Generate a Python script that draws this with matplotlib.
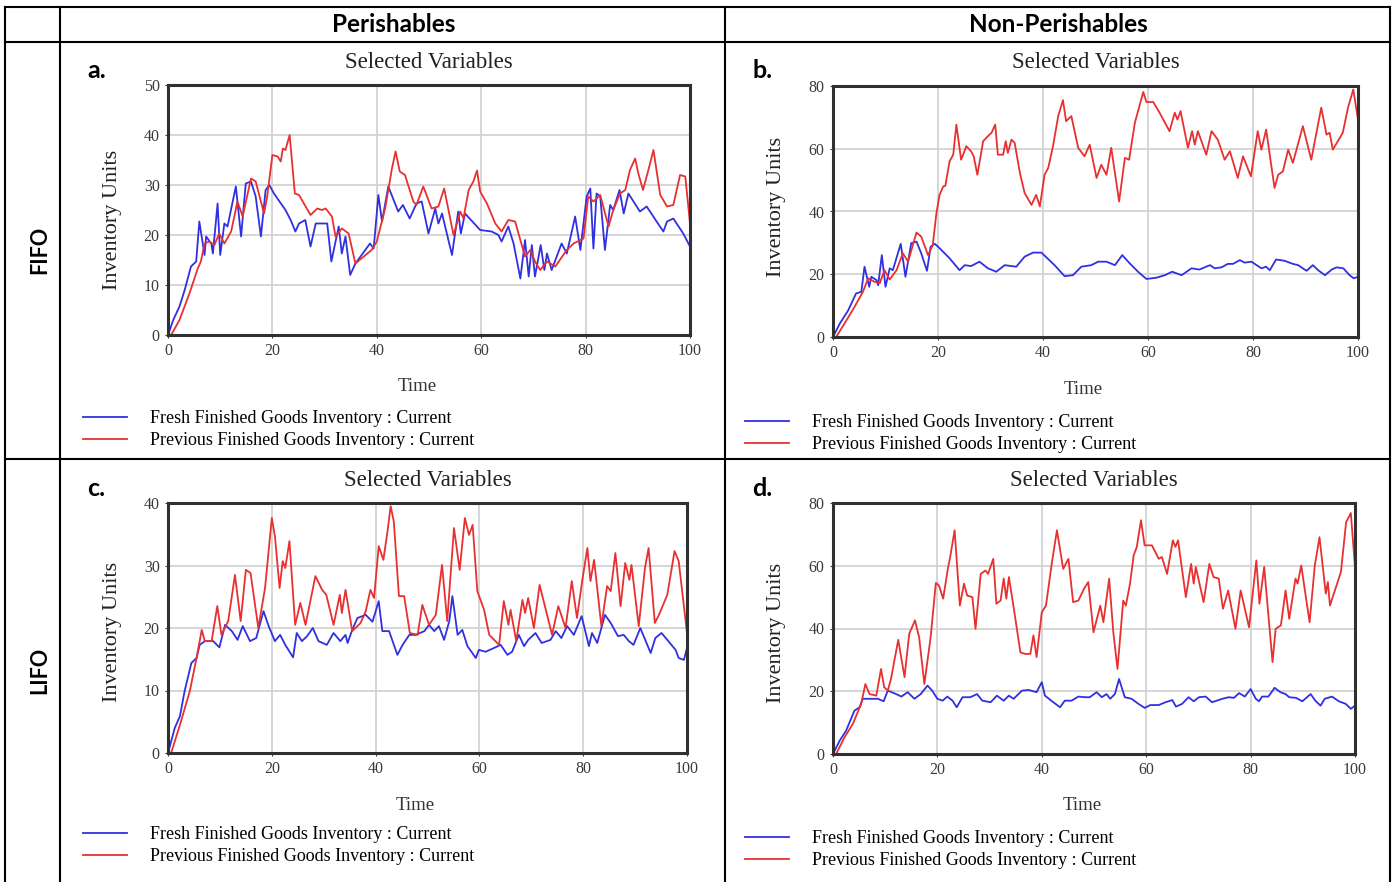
import matplotlib
matplotlib.use("Agg")
import matplotlib.pyplot as plt
from matplotlib.lines import Line2D

W, H = 1393, 882

# ---- data (time, value) ----
a_blue_t = [0, 1, 2.2, 3.2, 4.4, 5.4, 6, 7, 7.3, 8.3, 8.6, 9.5, 10, 10.8, 11.4, 13, 14, 14.9, 15.9, 16.8, 17.8, 18.7, 19.4, 20.3, 22.5, 23.5, 24.4, 25.1, 26.3, 27.3, 28.3, 30.5, 31.3, 32.7, 33.3, 34, 34.9, 35.9, 38.7, 39.4, 40.3, 41, 42.2, 44.1, 45, 46.3, 47.6, 48.6, 49.9, 51.2, 51.8, 52.5, 54.4, 55.6, 56.1, 56.9, 59.8, 62, 63.3, 63.9, 65.2, 66.2, 67.5, 68.4, 69.1, 69.7, 70.3, 71.4, 72.1, 72.6, 73.5, 75.4, 76.4, 78, 79, 80.2, 80.9, 81.5, 82.1, 82.8, 83.7, 84.7, 85.3, 86.5, 87.3, 88.2, 90.4, 91.7, 93.6, 94.9, 95.6, 96.8, 98.7, 100]
a_blue_v = [0, 3, 5.7, 9, 13.7, 14.7, 22.7, 16, 19.7, 18.3, 16.3, 26.3, 16, 22.3, 21.7, 29.7, 19.7, 30.3, 30.7, 27.7, 19.7, 29, 30, 28.3, 25, 23, 20.7, 22.3, 23, 17.7, 22.3, 22.3, 14.7, 21.7, 16.3, 19.7, 12, 14.3, 18.3, 17.3, 28, 22.7, 29.7, 24.7, 26, 23.3, 26.3, 26.7, 20.3, 25.3, 22.3, 24.3, 16, 24.7, 20.3, 24.3, 21, 20.7, 20, 18.7, 21.7, 18.3, 11.3, 19, 11.7, 18, 11.7, 18, 13, 16.3, 13, 18.3, 16.3, 23.7, 17, 27.7, 29.3, 17.3, 28.3, 27.7, 17, 26, 25, 29, 24.3, 28.3, 24.7, 25.7, 22.7, 20.7, 22.7, 23.3, 20.3, 17.7]
a_red_t = [0, 0.6, 2.2, 4.1, 5.7, 6.3, 7, 7.9, 8.9, 9.8, 10.8, 12.1, 13.3, 14.3, 15.9, 16.8, 18.4, 19, 20, 21, 21.6, 22, 22.5, 23.3, 24.3, 25.1, 27.3, 28.6, 29.5, 30.2, 31.4, 32.1, 33.3, 34.6, 35.9, 39, 40, 41.6, 42.9, 43.6, 44.4, 45.4, 47, 47.6, 48.9, 50.5, 51.8, 52.9, 54.7, 56, 56.6, 57.6, 58.5, 59.2, 59.8, 61.1, 62.7, 63.9, 65.2, 66.5, 67.5, 68.4, 69.4, 70.3, 71.3, 72.6, 74.2, 76.4, 77.7, 79.6, 80.5, 81.5, 82.8, 84.4, 85.3, 86.6, 87.6, 88.5, 89.5, 90.1, 91, 92.1, 93, 94.3, 95.6, 96.8, 98.1, 99.1, 100]
a_red_v = [0, 0, 3, 8.3, 13.3, 14.7, 18.3, 18.7, 18, 20.3, 18.3, 20.7, 26.7, 23.7, 31.3, 30.7, 24.3, 27.7, 36, 35.7, 34.7, 37.3, 37, 40, 28.3, 28, 24, 25.3, 25, 25.3, 23.7, 19.7, 21.3, 20.3, 14.3, 17, 18.7, 25.3, 33.3, 36.7, 32.7, 32, 26.7, 26, 29.7, 25.3, 25.7, 29.3, 20, 24.7, 23.3, 29, 30.7, 32.9, 28.7, 26.3, 22.3, 20.7, 23, 22.7, 19, 15.7, 17, 14.7, 13, 14.7, 13.7, 17, 18.3, 19.3, 27.7, 26.7, 28, 21.7, 25, 28.3, 29, 33, 35.3, 32.3, 29, 33.3, 37, 28, 25.7, 26, 32, 31.7, 22.3]

b_blue_t = [0, 1.3, 2.9, 4.4, 5.4, 6, 6.9, 7.3, 8.3, 8.6, 9.3, 10, 10.8, 11.4, 12.9, 13.8, 14.9, 15.9, 16.8, 17.9, 18.6, 19.4, 20.3, 22.2, 24.1, 25.1, 26.3, 27.9, 29.5, 31.1, 32.7, 34.9, 36.5, 38.1, 39.7, 42.2, 44.1, 45.7, 47.3, 49.2, 50.5, 52.1, 53.7, 55.1, 56.5, 58.1, 59.7, 61.6, 63.2, 64.6, 66.4, 68.3, 69.8, 71.8, 72.7, 74, 75.2, 76.2, 77.5, 78.4, 79.7, 81.6, 82.5, 83.2, 84.4, 86, 87.6, 88.6, 90.2, 91.4, 92.4, 93.7, 95, 95.9, 97.2, 98.4, 99.2, 100]
b_blue_v = [0, 4.3, 8.5, 13.9, 14.4, 22.4, 16, 19.2, 18.1, 16.5, 26.1, 16, 21.9, 21.3, 29.7, 19.2, 29.9, 30.4, 26.7, 21.1, 28.8, 29.7, 28.3, 25.1, 21.3, 22.9, 22.6, 24, 21.9, 20.8, 22.9, 22.4, 25.6, 26.9, 26.9, 22.9, 19.4, 19.7, 22.4, 22.9, 24, 24, 22.9, 26.1, 23.5, 20.8, 18.5, 18.9, 19.7, 20.8, 19.7, 21.9, 21.5, 22.9, 21.9, 22.2, 23.3, 23.3, 24.5, 23.7, 24, 21.9, 22.4, 21.3, 24.7, 24.3, 23.3, 22.9, 21.1, 22.9, 21.3, 19.7, 21.5, 22.2, 21.9, 19.7, 18.7, 19.2]
b_red_t = [0, 0.6, 2.2, 4.1, 5.7, 6.7, 7.9, 8.9, 9.8, 10.8, 12.1, 13.3, 14.3, 15.9, 16.8, 18.1, 19, 19.7, 20.3, 21, 21.4, 22.2, 22.9, 23.5, 24.4, 25.4, 26.3, 26.8, 27.5, 28.6, 29.5, 30.2, 30.9, 31.4, 32.4, 32.9, 33.3, 34, 34.6, 35.6, 36.5, 37.8, 38.7, 39.4, 40.3, 41, 41.9, 42.9, 43.8, 44.4, 45.4, 46.7, 47.9, 48.9, 50.2, 51.1, 52.1, 53, 53.7, 54.5, 55.6, 56.4, 57.5, 59.1, 59.7, 61, 62.2, 64.1, 65.1, 65.6, 66.2, 67.6, 68.4, 68.9, 69.5, 71.1, 72.1, 73.3, 74.6, 75.6, 77.1, 78.1, 79.6, 80.9, 81.6, 82.5, 84.1, 84.8, 85.7, 86.7, 87.6, 89.5, 91.1, 93, 94, 94.6, 95.2, 97.1, 98.1, 99.1, 100]
b_red_v = [0, 0, 4.3, 9.6, 14.4, 18.7, 17.6, 17.1, 21.3, 18.3, 21.3, 26.7, 24, 33.3, 32, 26.1, 29.3, 39.5, 45.3, 48, 48.2, 56, 58.1, 67.7, 56.5, 60.8, 59.2, 57.6, 51.7, 62.4, 64, 65.1, 67.7, 58.1, 58.1, 62.4, 58.7, 62.9, 61.9, 52.3, 45.9, 42.1, 45.3, 41.6, 51.7, 53.9, 60.8, 70.4, 75.5, 68.8, 70.4, 60.3, 57.6, 61.3, 50.7, 54.9, 51.7, 60.3, 52.3, 43.2, 57.1, 56.5, 68.3, 78.1, 74.9, 74.9, 71.5, 65.6, 71.5, 69.3, 72, 60.3, 65.6, 61.3, 65.6, 58.1, 65.6, 62.9, 56.5, 59.2, 50.7, 57.6, 51.2, 65.6, 59.7, 66.1, 47.5, 51.7, 52.8, 59.7, 55.5, 67.2, 56.5, 73.1, 64.5, 65.1, 59.7, 65.1, 73.1, 78.9, 69.3]

c_blue_t = [0, 1.3, 2.3, 3.2, 4.5, 5.5, 6.1, 7.1, 8.7, 9.9, 11, 12.3, 13.4, 14.4, 15.8, 17, 18.4, 19.4, 20.6, 21.6, 22.6, 24.1, 24.8, 25.8, 26.8, 27.9, 29, 30.6, 31.9, 33.2, 34.2, 34.6, 35.5, 36.5, 38.1, 39.4, 40.6, 41.3, 42.6, 44.2, 45.2, 46.5, 47.7, 49.4, 50.3, 51.3, 52.2, 53.2, 54.2, 54.8, 55.8, 56.7, 57.7, 59.3, 59.9, 61.2, 62.8, 64.1, 65.4, 66.3, 67.6, 68.6, 69.4, 70.8, 72, 73.7, 74.7, 75.8, 76.9, 78.2, 79.7, 81.1, 81.7, 82.7, 84.2, 85.3, 86.7, 87.8, 88.8, 89.7, 91, 93, 93.9, 95.1, 96.2, 97.8, 98.4, 99.4, 100]
c_blue_v = [0, 4, 5.9, 9.9, 14.4, 15.2, 17.3, 17.9, 17.9, 16.9, 20.5, 19.5, 18.1, 20.3, 17.9, 18.4, 22.7, 20.3, 17.9, 18.9, 17.3, 15.3, 19.2, 17.9, 18.7, 20, 17.9, 17.3, 19.2, 17.9, 18.9, 17.6, 19.7, 21.6, 22.1, 21, 24.3, 19.5, 19.5, 15.7, 17.3, 18.9, 18.9, 19.5, 20.5, 19.5, 20.3, 18.1, 21.1, 25.1, 18.9, 19.7, 17.1, 15.2, 16.5, 16.2, 16.8, 17.3, 15.7, 16.2, 18.9, 17.1, 18.1, 19.2, 17.6, 18.1, 19.5, 18.4, 20.3, 18.9, 21.9, 17.1, 19.2, 17.6, 22.1, 20.8, 18.7, 18.9, 17.9, 17.3, 20, 16, 18.4, 19.2, 18.1, 16.5, 15.2, 14.9, 16.8]
c_red_t = [0, 0.6, 2.3, 4.2, 5.5, 6.5, 7.1, 8.4, 9.5, 10.3, 11.6, 12.9, 14, 15, 15.9, 17.4, 18.7, 20, 20.6, 21.5, 22.1, 22.6, 23.4, 24.5, 25.5, 26.5, 28.4, 29.7, 30.5, 31.9, 33.1, 33.5, 34.2, 35.5, 37.1, 38.1, 39, 39.7, 40.6, 41.5, 42.3, 42.9, 43.5, 44.5, 45.5, 46.6, 48.1, 49, 50.3, 51.6, 52.8, 53.8, 55.1, 56.2, 57.2, 58, 58.7, 59.6, 60.9, 61.9, 63.8, 64.7, 65.6, 66, 67.1, 68.3, 68.8, 69.4, 70.5, 71.6, 74, 75.2, 76.6, 77.8, 78.8, 79.8, 80.8, 81.4, 82.1, 83.5, 84.6, 85.3, 86.2, 87.2, 88.1, 88.9, 89.3, 90.7, 91.9, 92.6, 93.8, 94.6, 96.2, 97.6, 98.4, 100]
c_red_v = [0, 0, 4.5, 9.9, 15.2, 19.7, 17.9, 17.9, 23.5, 18.9, 21.1, 28.5, 21.1, 29.3, 28.8, 20, 26.4, 37.6, 34.7, 26.4, 30.7, 29.6, 33.9, 20.5, 24, 20.5, 28.3, 26.1, 25.3, 20.5, 25.3, 22.4, 26.1, 19.5, 20.8, 22.7, 26.1, 24.8, 33.1, 30.9, 35.5, 39.5, 37.1, 25.1, 25.1, 19.2, 18.9, 23.7, 20.5, 22.1, 30.1, 21.1, 36, 29.3, 37.6, 34.9, 36.5, 25.9, 22.9, 18.9, 17.3, 24.3, 20.5, 22.9, 17.9, 24.5, 22.4, 24.8, 20, 26.9, 18.9, 23.5, 20, 27.5, 21.6, 27.5, 32.8, 27.5, 30.9, 20.3, 26.7, 25.9, 32, 23.5, 30.4, 27.7, 30.1, 20.3, 29.6, 32.8, 20.8, 22.1, 25.3, 32.3, 30.7, 19.2]

d_blue_t = [0, 1.3, 2.5, 4.1, 5.1, 5.7, 7, 8.6, 9.7, 10.5, 12.1, 13.1, 14.3, 15.6, 16.8, 18.1, 19, 20, 21, 21.9, 22.9, 23.7, 24.8, 26.3, 27.6, 28.6, 30.2, 31.4, 32.7, 33.7, 34.6, 36.2, 37.5, 39, 40, 40.6, 42.2, 43.5, 44.4, 45.7, 47, 48.3, 49.2, 50.5, 51.5, 52.4, 53.1, 54, 54.8, 55.9, 57.2, 58.5, 59.7, 60.8, 62.4, 63.7, 65, 65.7, 66.9, 68.1, 69.1, 70.1, 71.4, 72.6, 74.6, 75.8, 76.8, 77.8, 78.9, 80, 81, 81.6, 82.2, 83.4, 84.6, 85.7, 86.7, 87.4, 88.7, 89.9, 91.5, 92.4, 93.4, 94.2, 95.6, 96.9, 98.2, 99.2, 100]
d_blue_v = [0, 4.3, 7.4, 13.8, 14.9, 17.6, 17.6, 17.6, 16.8, 20.2, 19.1, 18.3, 19.7, 17.6, 19.1, 21.8, 20.2, 17.6, 17, 18.3, 17, 14.9, 18.1, 18.1, 19.1, 17, 16.5, 18.6, 17, 18.6, 17.6, 20.2, 20.4, 19.7, 22.9, 18.6, 16.5, 14.9, 17, 17, 18.3, 18.1, 18.1, 19.7, 18.1, 19.1, 17.6, 19.1, 23.9, 18.1, 17.6, 16, 14.7, 15.6, 15.6, 16.5, 17.2, 15.1, 16, 18.1, 16.8, 18.1, 18.3, 16.5, 17.6, 18.1, 17.9, 19.4, 18.3, 20.7, 17.6, 16.8, 18.3, 18.3, 21.1, 19.7, 19.1, 18.1, 17.9, 16.8, 19.1, 17, 15.4, 17.6, 18.3, 16.8, 16, 14.4, 15.4]
d_red_t = [0, 0.6, 2.2, 3.8, 5.4, 6.2, 7, 8.3, 9.2, 9.8, 10.5, 11.1, 12.5, 13.7, 14.6, 15.7, 16.5, 17.5, 18.7, 19.7, 20.3, 21.1, 22, 22.5, 23.3, 24.3, 25.1, 25.7, 26.7, 27.3, 28.3, 29.2, 29.7, 30.7, 31.3, 32.1, 32.7, 33.2, 33.7, 34.6, 35.9, 36.8, 37.8, 38.4, 39, 40, 40.8, 41.9, 42.9, 44.1, 45.1, 46, 47, 48.1, 48.9, 49.9, 51.2, 51.8, 52.9, 53.7, 54.5, 55.6, 56.1, 56.9, 57.6, 58.2, 59, 59.7, 61.1, 62.4, 63, 64, 65.1, 65.6, 66.1, 67.6, 68.6, 69.1, 69.5, 71, 72.1, 72.9, 73.9, 74.7, 75.7, 77.1, 78.1, 79.7, 81.1, 81.7, 82.6, 84.2, 84.8, 85.8, 86.7, 87.4, 88.6, 89, 89.7, 91.3, 92.3, 93.2, 94.4, 94.8, 95.2, 97.3, 98.3, 99.2, 100]
d_red_v = [0, 0, 5.3, 9.6, 16, 22.3, 19.1, 18.6, 27.1, 21.3, 20.2, 23.9, 36.4, 24.5, 38.3, 42.6, 37.2, 22.3, 37.2, 54.5, 53.7, 49.5, 59, 63.3, 71.3, 47.3, 54.3, 50.5, 50, 39.9, 57.4, 58.5, 57.4, 62.2, 47.9, 48.9, 55.9, 49.5, 56.4, 46.8, 32.4, 31.9, 31.9, 37.8, 30.9, 45.2, 47.3, 60.6, 71.3, 59, 62.2, 48.4, 48.9, 52.7, 54.8, 38.8, 47.3, 42, 55.9, 38.8, 27.1, 48.9, 47.3, 54.3, 63.3, 66, 74.5, 66.5, 66.5, 62.2, 62.8, 57.4, 68.1, 66, 68.1, 50, 60.6, 54.3, 59.6, 48.4, 60.6, 56.4, 55.9, 46.3, 52.1, 39.9, 52.1, 40.4, 61.7, 47.9, 59.6, 29.3, 39.9, 41, 52.1, 43.1, 55.9, 54.3, 60.1, 42, 60.1, 69.1, 51.1, 54.8, 47.3, 58, 73.9, 76.8, 59.6]

x_ticks = [0, 20, 40, 60, 80, 100]
col_headers = ["Perishables", "Non-Perishables"]
row_headers = ["FIFO", "LIFO"]
legend_labels = ["Fresh Finished Goods Inventory : Current",
                 "Previous Finished Goods Inventory : Current"]

BLUE = "#3030e0"
RED = "#e83030"
SERIF = "Liberation Serif"

fig = plt.figure(figsize=(W / 100, H / 100), dpi=100)
fig.patch.set_facecolor("white")


def fx(px):
    return px / W


def fy(py):
    return 1 - py / H


def hline(x0, x1, y, lw=1.5):
    fig.add_artist(Line2D([fx(x0), fx(x1)], [fy(y), fy(y)], color="black",
                          lw=lw, transform=fig.transFigure))


def vline(x, y0, y1, lw=1.5):
    fig.add_artist(Line2D([fx(x), fx(x)], [fy(y0), fy(y1)], color="black",
                          lw=lw, transform=fig.transFigure))


# table frame
hline(5, 1390, 7)
hline(5, 1390, 42)
hline(5, 1390, 459)
vline(5, 7, 882)
vline(60, 7, 882)
vline(725, 7, 882)
vline(1390, 7, 882)

fig.text(fx(394), fy(25), col_headers[0], ha="center", va="center",
         fontsize=17.5, fontweight="bold", family="Lato")
fig.text(fx(1058), fy(25), col_headers[1], ha="center", va="center",
         fontsize=17.5, fontweight="bold", family="Lato")
fig.text(fx(40), fy(250), row_headers[0], ha="center", va="center",
         rotation=90, fontsize=15.5, fontweight="bold", family="Lato")
fig.text(fx(40), fy(670), row_headers[1], ha="center", va="center",
         rotation=90, fontsize=15.5, fontweight="bold", family="Lato")


def panel(letter, box, ymax, ystep, blue, red, lx, ly, dy_lab=0):
    left, top, right, bottom = box
    ax = fig.add_axes([fx(left), fy(bottom), fx(right - left),
                       (bottom - top) / H])
    ax.plot(blue[0], blue[1], color=BLUE, lw=1.3, label=legend_labels[0])
    ax.plot(red[0], red[1], color=RED, lw=1.3, label=legend_labels[1])
    ax.set_xlim(0, 100)
    ax.set_ylim(0, ymax)
    ax.set_xticks(x_ticks)
    ax.set_yticks(range(0, ymax + 1, ystep))
    ax.grid(True, color="#d0d0d0", lw=1.2)
    ax.set_axisbelow(True)
    for s in ax.spines.values():
        s.set_linewidth(2.2)
        s.set_color("#303030")
    ax.tick_params(length=2, width=0.8, colors="#3a3a3a", labelsize=11.5,
                   pad=4)
    for lab in ax.get_xticklabels() + ax.get_yticklabels():
        lab.set_family(SERIF)
    cx = (left + right) / 2
    fig.text(fx(cx), fy(top - 23), "Selected Variables", ha="center",
             va="center", fontsize=16.5, family=SERIF, color="#222222")
    fig.text(fx(cx - 12), fy(bottom + 52), "Time", ha="center",
             va="center", fontsize=13.5, family=SERIF, color="#333333")
    fig.text(fx(left - 56), fy((top + bottom) / 2 + dy_lab),
             "Inventory Units", ha="center", va="center", rotation=90,
             fontsize=16, family=SERIF, color="#222222")
    fig.text(fx(left - 81), fy(top - 15), letter, ha="left", va="center",
             fontsize=18, fontweight="bold", family="Lato")
    ax.legend(loc="upper left", bbox_to_anchor=(fx(lx), fy(ly)),
              bbox_transform=fig.transFigure, frameon=False,
              prop={"family": SERIF, "size": 13}, handlelength=2.45,
              handletextpad=1.25, labelspacing=0.3, borderpad=0,
              borderaxespad=0)
    return ax


panel("a.", (168, 85, 690, 335), 50, 10, (a_blue_t, a_blue_v),
      (a_red_t, a_red_v), 83, 410, dy_lab=10)
panel("b.", (833, 86, 1358, 337), 80, 20, (b_blue_t, b_blue_v),
      (b_red_t, b_red_v), 745, 414, dy_lab=-5)
panel("c.", (168, 503, 687, 753), 40, 10, (c_blue_t, c_blue_v),
      (c_red_t, c_red_v), 83, 826, dy_lab=4)
panel("d.", (833, 503, 1355, 754), 80, 20, (d_blue_t, d_blue_v),
      (d_red_t, d_red_v), 745, 830, dy_lab=4)

fig.savefig("out.png", dpi=100)
